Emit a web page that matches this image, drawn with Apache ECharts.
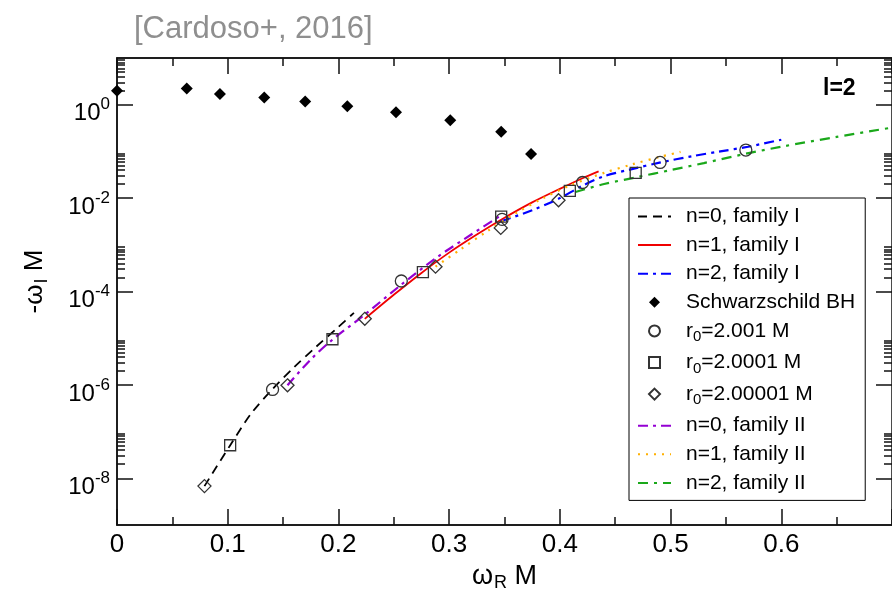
<!DOCTYPE html>
<html>
<head>
<meta charset="utf-8">
<script src="https://cdn.jsdelivr.net/npm/echarts@6/dist/echarts.min.js"></script>
<style>html,body{margin:0;padding:0;background:#fff;}#chart{width:892px;height:599px;}</style>
</head>
<body>
<div id="chart"></div>
<script>
// ---- data (x = omega_R M, y = -omega_I M) ----
const schwarzschildBH = [[0.0, 2.0], [0.063, 2.22], [0.093, 1.70], [0.133, 1.42], [0.170, 1.17], [0.208, 0.93], [0.252, 0.69], [0.301, 0.465], [0.347, 0.265], [0.374, 0.088]];
const r0_2001 = [[0.1405, 8.0e-7], [0.2568, 1.68e-4], [0.3478, 3.5e-3], [0.4205, 0.0216], [0.4905, 0.058], [0.568, 0.107]];
const r0_20001 = [[0.1022, 5.1e-8], [0.1946, 9.5e-6], [0.2763, 2.6e-4], [0.347, 4.0e-3], [0.409, 0.0143], [0.4685, 0.0348]];
const r0_200001 = [[0.079, 6.8e-9], [0.154, 9.8e-7], [0.2238, 2.6e-5], [0.2877, 3.4e-4], [0.3466, 2.3e-3], [0.3988, 9.0e-3]];
const n0FamilyI = [[0.079, 6.8e-9], [0.102, 5.0e-8], [0.121, 2.4e-7], [0.140, 7.9e-7], [0.160, 2.4e-6], [0.180, 6.6e-6], [0.200, 1.74e-5], [0.214, 3.5e-5]];
const n1FamilyI = [[0.2238, 2.6e-5], [0.250, 8.5e-5], [0.275, 2.5e-4], [0.300, 6.8e-4], [0.325, 1.66e-3], [0.350, 3.8e-3], [0.375, 8.1e-3], [0.400, 0.0158], [0.420, 0.0263], [0.435, 0.0372]];
const n2FamilyI = [[0.347, 3.2e-3], [0.375, 5.5e-3], [0.400, 0.0100], [0.420, 0.0182], [0.440, 0.0295], [0.465, 0.0417], [0.490, 0.0575], [0.520, 0.0794], [0.545, 0.100], [0.570, 0.126], [0.600, 0.178]];
const n0FamilyII = [[0.154, 9.8e-7], [0.175, 3.5e-6], [0.1946, 9.3e-6], [0.2238, 3.2e-5], [0.2568, 1.4e-4], [0.290, 5.6e-4], [0.320, 1.66e-3], [0.347, 4.3e-3]];
const n1FamilyII = [[0.2877, 3.4e-4], [0.310, 7.9e-4], [0.335, 2.0e-3], [0.360, 4.7e-3], [0.385, 0.0100], [0.410, 0.0190], [0.440, 0.0347], [0.465, 0.0525], [0.490, 0.0759], [0.509, 0.0977]];
const n2FamilyII = [[0.414, 0.0135], [0.440, 0.0200], [0.470, 0.0282], [0.500, 0.0398], [0.530, 0.0562], [0.568, 0.0891], [0.600, 0.126], [0.650, 0.204], [0.700, 0.324]];

// ---- axis ticks ----
const yMajorTicks = [1e-8, 1e-6, 1e-4, 1e-2, 1];
const yMinorMantissas = [2, 3, 4, 5, 6, 7, 8, 9];
const yMinorTicks = [];
yMajorTicks.forEach(function (m) { yMinorMantissas.forEach(function (k) { yMinorTicks.push(k * m); }); });

const FONT = 'Liberation Sans, Arial, Helvetica, sans-serif';
const AX = '#111';
const DIAMOND_ICON = 'path://M5,0 L10,5 L5,10 L0,5 Z';
const RECT_ICON = 'path://M0,0 L10,0 L10,10 L0,10 Z';

const chart = echarts.init(document.getElementById('chart'), null, {renderer: 'canvas'});

function yLabel(v) {
  const e = Math.round(Math.log10(v));
  return '{b|10}{sup|' + e + '}';
}
function baseY(pos, ticks, len, labels) {
  return {
    type: 'log', logBase: 10, min: 1e-9, max: 10, position: pos, gridIndex: 0,
    axisLine: {show: labels, lineStyle: {color: AX, width: 1.5}},
    axisTick: {show: true, inside: true, length: len, customValues: ticks, lineStyle: {color: AX, width: 1.5}},
    minorTick: {show: false},
    splitLine: {show: false},
    axisLabel: labels ? {
      show: true, customValues: ticks, formatter: yLabel, margin: 7, color: '#000',
      rich: {
        b: {fontSize: 24, fontFamily: FONT, color: '#000', padding: [18, 0, 0, 0]},
        sup: {fontSize: 17, fontFamily: FONT, color: '#000'}
      }
    } : {show: false}
  };
}
function baseX(pos, labels) {
  return {
    type: 'value', min: 0, max: 0.7, interval: 0.1, position: pos,
    axisLine: {show: true, onZero: false, lineStyle: {color: AX, width: 1.5}},
    axisTick: {show: true, inside: true, length: 16, lineStyle: {color: AX, width: 1.5}},
    minorTick: {show: true, splitNumber: 2, length: 8, lineStyle: {color: AX, width: 1.5}},
    splitLine: {show: false},
    axisLabel: labels ? {show: true, fontSize: 26, fontFamily: FONT, color: '#000', margin: 7, showMaxLabel: false} : {show: false}
  };
}

const xBottom = baseX('bottom', true);
xBottom.name = '{a|ω}{s|R}{a| M}';
xBottom.nameLocation = 'middle';
xBottom.nameGap = 34;
xBottom.nameTextStyle = {rich: {a: {fontSize: 27, fontFamily: FONT, color: '#000'}, s: {fontSize: 18, fontFamily: FONT, color: '#000', padding: [14, 0, 0, 1]}}};

const yLeft = baseY('left', yMajorTicks, 16, true);
yLeft.name = '{a|-ω}{s|I}{a| M}';
yLeft.nameLocation = 'middle';
yLeft.nameGap = 66;
yLeft.nameTextStyle = {padding: [0, 0, 0, 20], rich: {a: {fontSize: 26, fontFamily: FONT, color: '#000'}, s: {fontSize: 18, fontFamily: FONT, color: '#000', padding: [14, 0, 0, 1]}}};

function lineSeries(name, data, color, type, width) {
  return {name: name, type: 'line', data: data, xAxisIndex: 0, yAxisIndex: 0, symbol: 'none', smooth: 0.3,
    lineStyle: {color: color, width: width, type: type}, itemStyle: {color: color}, z: 2};
}
function markerSeries(name, data, symbol, size) {
  return {name: name, type: 'scatter', data: data, xAxisIndex: 0, yAxisIndex: 0, symbol: symbol, symbolSize: size,
    itemStyle: {color: 'rgba(0,0,0,0)', borderColor: '#333', borderWidth: 1.3, opacity: 1}, z: 3};
}

const hiddenSymbol = {color: 'rgba(0,0,0,0)', borderColor: 'rgba(0,0,0,0)', borderWidth: 0};
const legendData = [
  {name: 'n=0, family I', itemStyle: hiddenSymbol},
  {name: 'n=1, family I', itemStyle: hiddenSymbol},
  {name: 'n=2, family I', itemStyle: hiddenSymbol},
  {name: 'Schwarzschild BH', icon: DIAMOND_ICON},
  {name: 'r0=2.001 M', icon: 'circle'},
  {name: 'r0=2.0001 M', icon: RECT_ICON},
  {name: 'r0=2.00001 M', icon: DIAMOND_ICON},
  {name: 'n=0, family II', itemStyle: hiddenSymbol},
  {name: 'n=1, family II', itemStyle: hiddenSymbol},
  {name: 'n=2, family II', itemStyle: hiddenSymbol}
];

const option = {
  backgroundColor: '#fff',
  animation: false,
  title: [
    {text: '[Cardoso+, 2016]', left: 134, top: 14, padding: 0, textStyle: {fontSize: 31, fontWeight: 'normal', color: '#8f8f8f', fontFamily: FONT}},
    {text: 'l=2', left: 823, top: 77, padding: 0, textStyle: {fontSize: 23, fontWeight: 'bold', color: '#000', fontFamily: FONT}}
  ],
  grid: {left: 117, top: 58, right: -2, bottom: 74, show: true, borderColor: AX, borderWidth: 1.5, backgroundColor: 'transparent'},
  xAxis: [xBottom, baseX('top', false)],
  yAxis: [yLeft, baseY('left', yMinorTicks, 8, false), baseY('right', yMajorTicks, 16, false), baseY('right', yMinorTicks, 8, false)],
  legend: {
    orient: 'vertical', left: 629, top: 198, padding: [8, 10, 7, 8],
    itemWidth: 33, itemHeight: 11, itemGap: 7.6, symbolKeepAspect: true,
    borderColor: '#000', borderWidth: 1, backgroundColor: '#fff',
    data: legendData,
    formatter: function (name) {
      if (name.indexOf('r0') === 0) return '{t|r}{s|0}{t|' + name.slice(2) + '}';
      return '{t|' + name + '}';
    },
    textStyle: {fontSize: 21, fontFamily: FONT, color: '#000', padding: [0, 0, 0, 10],
      rich: {t: {fontSize: 21, fontFamily: FONT, color: '#000'}, s: {fontSize: 15, fontFamily: FONT, color: '#000', padding: [12, 0, 0, 0]}}}
  },
  series: [
    lineSeries('n=0, family I', n0FamilyI, '#000000', [9, 6], 1.8),
    lineSeries('n=1, family I', n1FamilyI, '#f00000', 'solid', 1.8),
    lineSeries('n=2, family I', n2FamilyI, '#0000ff', [10, 5, 3, 5], 2.2),
    {name: 'Schwarzschild BH', type: 'scatter', data: schwarzschildBH, symbol: 'diamond', symbolSize: 12, itemStyle: {color: '#000', opacity: 1}, z: 3},
    markerSeries('r0=2.001 M', r0_2001, 'circle', 12),
    markerSeries('r0=2.0001 M', r0_20001, 'rect', 11),
    markerSeries('r0=2.00001 M', r0_200001, 'diamond', 13),
    lineSeries('n=0, family II', n0FamilyII, '#9400d3', [10, 5, 3, 5], 2.2),
    lineSeries('n=1, family II', n1FamilyII, '#ffb000', [2, 6], 2.2),
    lineSeries('n=2, family II', n2FamilyII, '#1aa81a', [10, 6, 3, 6], 2.2)
  ]
};
chart.setOption(option);
</script>
</body>
</html>
